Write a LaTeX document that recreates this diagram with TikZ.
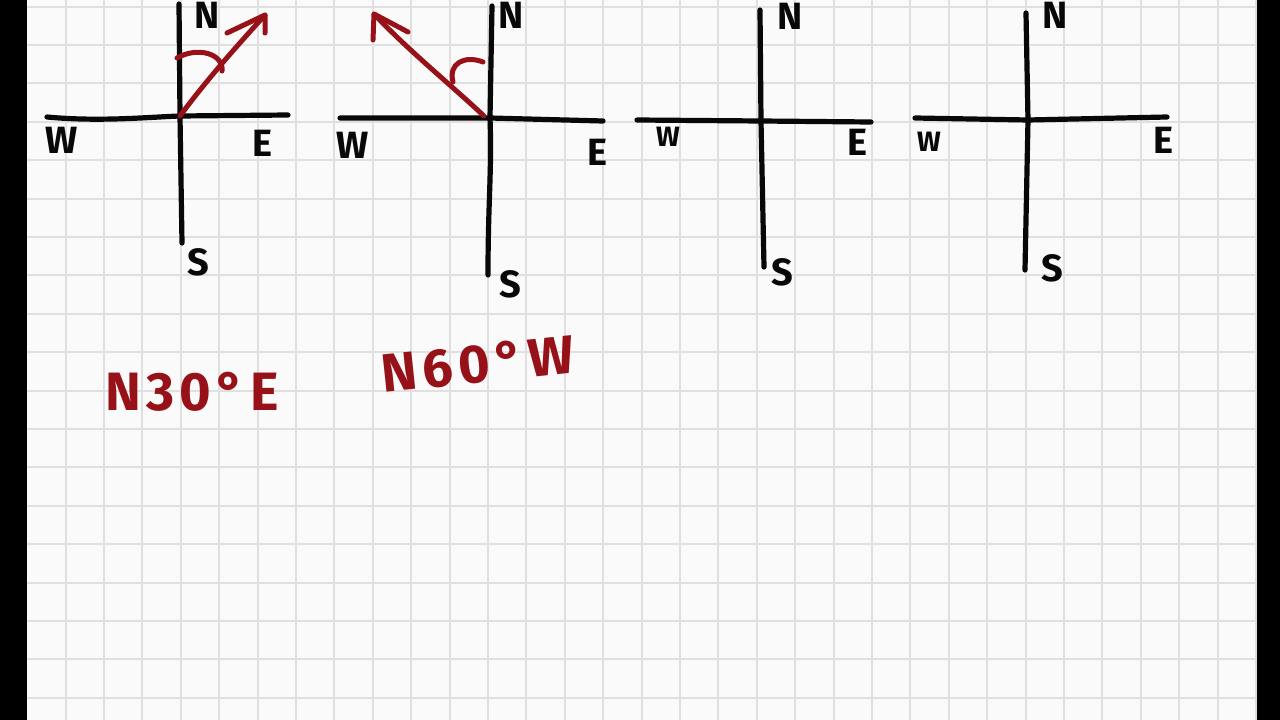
\documentclass[tikz,border=0pt]{standalone}
\usepackage{fontspec}
\setmainfont{Fira Sans}
\definecolor{paper}{RGB}{250,250,250}
\definecolor{gridc}{RGB}{224,224,224}
\definecolor{ink}{RGB}{8,8,8}
\definecolor{marker}{RGB}{150,18,24}
\begin{document}
\begin{tikzpicture}[x=1pt,y=-1pt,
  axis/.style={draw=ink,line width=5.2pt,line cap=round,line join=round},
  redline/.style={draw=marker,line width=5pt,line cap=round,line join=round},
  dirlabel/.style={font=\fontsize{38}{38}\selectfont\bfseries,text=ink,inner sep=0pt},
  smalldir/.style={font=\fontsize{28}{28}\selectfont\bfseries,text=ink,inner sep=0pt},
  bearing/.style={font=\fontsize{54}{54}\selectfont\bfseries\addfontfeature{LetterSpace=10},text=marker,inner sep=0pt}]
\useasboundingbox (0,0) rectangle (1280,720);
\clip (0,0) rectangle (1280,720);
\fill[paper] (0,0) rectangle (1280,720);
\foreach \i in {0,...,31} \draw[gridc,line width=2pt] ({65.5+38.4*\i},0) -- ({65.5+38.4*\i},720);
\foreach \j in {0,...,18} \draw[gridc,line width=2pt] (0,{6.5+38.4*\j}) -- (1280,{6.5+38.4*\j});
\fill[black] (0,0) rectangle (27,720);
\fill[black] (1257,0) rectangle (1280,720);

% ---------- compass 1 ----------
\coordinate (o1) at (180,116);
\coordinate (n1) at (179,4);
\coordinate (s1) at (182,243);
\coordinate (w1) at (47,117);
\coordinate (e1) at (288,115);
\draw[axis] (n1) -- (o1) -- (s1);
\draw[axis] (w1) .. controls (100,122) and (150,117) .. (o1) -- (e1);
\node[dirlabel] (N1) at (207,15) {N};
\node[dirlabel] (W1) at (62,140) {W};
\node[dirlabel] (E1) at (262,143) {E};
\node[dirlabel] (S1) at (198,262) {S};
\coordinate (t1) at (265,15);
\coordinate (b1a) at (227,33);
\coordinate (b1b) at (265,33);
\draw[redline] (o1) .. controls (205,82) and (235,48) .. (t1);
\draw[redline] (b1a) -- (t1) -- (b1b);
\coordinate (a1s) at (177,58);
\coordinate (a1e) at (222,71);
\draw[redline] (a1s) .. controls (198,46) and (224,54) .. (a1e);

% ---------- compass 2 ----------
\coordinate (o2) at (490,118);
\coordinate (n2) at (492,6);
\coordinate (s2) at (488,275);
\coordinate (w2) at (340,118);
\coordinate (e2) at (603,121);
\draw[axis] (n2) -- (o2) .. controls (492,170) and (488,200) .. (s2);
\draw[axis] (w2) -- (o2) -- (e2);
\node[dirlabel] (N2) at (511,15) {N};
\node[dirlabel] (W2) at (353,145) {W};
\node[dirlabel] (E2) at (597,152) {E};
\node[dirlabel] (S2) at (510,284) {S};
\coordinate (o2r) at (484,116);
\coordinate (t2) at (374,14);
\coordinate (b2a) at (373,40);
\coordinate (b2b) at (408,32);
\draw[redline] (o2r) .. controls (450,84) and (410,52) .. (t2);
\draw[redline] (b2a) -- (t2) -- (b2b);
\coordinate (a2s) at (483,62);
\coordinate (a2e) at (453,82);
\draw[redline] (a2s) .. controls (465,55) and (448,63) .. (a2e);

% ---------- compass 3 ----------
\coordinate (o3) at (761,121);
\coordinate (n3) at (760,10);
\coordinate (s3) at (764,267);
\coordinate (w3) at (637,120);
\coordinate (e3) at (871,122);
\draw[axis] (n3) -- (o3) -- (s3);
\draw[axis] (w3) -- (o3) -- (e3);
\node[dirlabel] (N3) at (790,16) {N};
\node[smalldir] (W3) at (668,137) {W};
\node[dirlabel] (E3) at (857,142) {E};
\node[dirlabel] (S3) at (782,272) {S};

% ---------- compass 4 ----------
\coordinate (o4) at (1028,120);
\coordinate (n4) at (1026,13);
\coordinate (s4) at (1025,270);
\coordinate (w4) at (915,118);
\coordinate (e4) at (1167,117);
\draw[axis] (n4) -- (o4) -- (s4);
\draw[axis] (w4) -- (o4) -- (e4);
\node[dirlabel] (N4) at (1055,15) {N};
\node[smalldir] (W4) at (929,142) {W};
\node[dirlabel] (E4) at (1163,140) {E};
\node[dirlabel] (S4) at (1052,268) {S};

% ---------- bearings ----------
\node[bearing] (B1) at (192,392) {N30°E};
\node[bearing,rotate=6] (B2) at (478,364) {N60°W};
\end{tikzpicture}
\end{document}
